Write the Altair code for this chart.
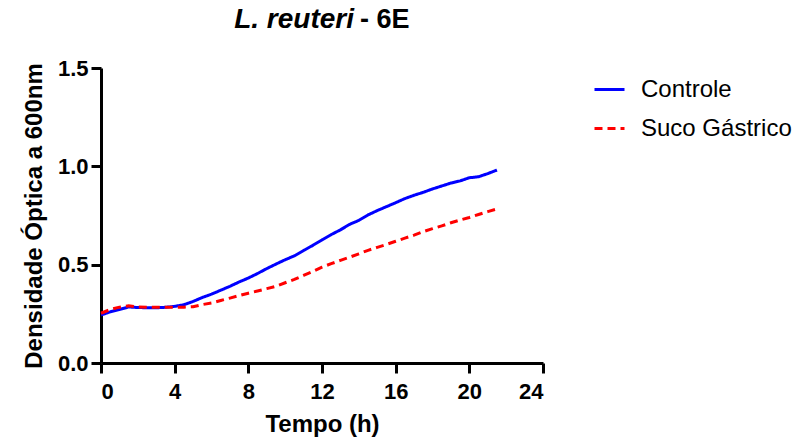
import altair as alt
import pandas as pd

# Data
tempo = [0, 0.5, 1, 1.5, 2, 2.5, 3, 3.5, 4, 4.5, 5, 5.5, 6, 6.5, 7, 7.5, 8, 8.5, 9, 9.5,
         10, 10.5, 11, 11.5, 12, 12.5, 13, 13.5, 14, 14.5, 15, 15.5, 16, 16.5, 17, 17.5,
         18, 18.5, 19, 19.5, 20, 20.5, 21, 21.5]
controle = [0.244, 0.260, 0.272, 0.285, 0.282, 0.281, 0.281, 0.283, 0.288, 0.296, 0.313,
            0.333, 0.350, 0.370, 0.390, 0.412, 0.432, 0.455, 0.480, 0.503, 0.525, 0.545,
            0.572, 0.598, 0.626, 0.653, 0.677, 0.705, 0.725, 0.753, 0.775, 0.795, 0.815,
            0.836, 0.853, 0.868, 0.885, 0.900, 0.915, 0.926, 0.942, 0.947, 0.963, 0.981]
suco = [0.253, 0.272, 0.284, 0.291, 0.285, 0.284, 0.283, 0.284, 0.283, 0.284, 0.286,
        0.297, 0.305, 0.318, 0.330, 0.343, 0.355, 0.366, 0.378, 0.390, 0.408, 0.425,
        0.445, 0.465, 0.487, 0.505, 0.522, 0.538, 0.555, 0.573, 0.588, 0.603, 0.619,
        0.635, 0.650, 0.668, 0.683, 0.697, 0.713, 0.727, 0.740, 0.755, 0.770, 0.783]
series_names = ["Controle", "Suco Gástrico"]
x_ticks = [0, 4, 8, 12, 16, 20, 24]
y_ticks = [0.0, 0.5, 1.0, 1.5]

rows = []
for t, v in zip(tempo, controle):
    rows.append({"Tempo": t, "DO": v, "Serie": series_names[0]})
for t, v in zip(tempo, suco):
    rows.append({"Tempo": t, "DO": v, "Serie": series_names[1]})
df = pd.DataFrame(rows)

FONT = "Liberation Sans"
W, H = 442, 295

legend_cfg = dict(title=None, orient="none", legendX=492, legendY=5,
                  symbolType="stroke", symbolSize=900, symbolStrokeWidth=3,
                  labelFontSize=24, labelFont=FONT, labelColor="black",
                  labelOffset=15, rowPadding=10, padding=0)

lines = alt.Chart(df).mark_line(strokeWidth=3).encode(
    x=alt.X("Tempo:Q",
            scale=alt.Scale(domain=[0, 24], nice=False, zero=False),
            axis=alt.Axis(values=x_ticks, title="Tempo (h)", format="d",
                          labelPadding=8, titlePadding=10)),
    y=alt.Y("DO:Q",
            scale=alt.Scale(domain=[0, 1.5], nice=False),
            axis=alt.Axis(values=y_ticks, title="Densidade Óptica a 600nm", format=".1f",
                          labelPadding=3, titlePadding=11)),
    color=alt.Color("Serie:N",
                    scale=alt.Scale(domain=series_names, range=["#0000FF", "#FF0000"]),
                    legend=alt.Legend(**legend_cfg)),
    strokeDash=alt.StrokeDash("Serie:N",
                              scale=alt.Scale(domain=series_names, range=[[1, 0], [8, 5]]),
                              legend=alt.Legend(**legend_cfg)),
)

title_a = alt.Chart(pd.DataFrame({"t": ["L. reuteri"]})).mark_text(
    font=FONT, fontSize=28, fontStyle="italic", fontWeight="bold", align="right",
    baseline="alphabetic", color="black"
).encode(text="t:N", x=alt.value(253), y=alt.value(-40))

title_b = alt.Chart(pd.DataFrame({"t": ["- 6E"]})).mark_text(
    font=FONT, fontSize=27, fontWeight="bold", align="left",
    baseline="alphabetic", color="black"
).encode(text="t:N", x=alt.value(259), y=alt.value(-40))

chart = alt.layer(lines, title_a, title_b).properties(
    width=W, height=H,
    autosize=alt.AutoSizeParams(type="none"),
    padding={"left": 101, "top": 68, "right": 809 - 101 - W, "bottom": 446 - 68 - H},
).configure_view(stroke=None).configure_axis(
    grid=False, domainColor="black", domainWidth=3, tickColor="black", tickWidth=3,
    tickSize=10, labelFont=FONT, labelFontSize=22, labelFontWeight="bold",
    labelColor="black", titleFont=FONT, titleFontSize=24, titleFontWeight="bold",
    titleColor="black"
)

chart.save("out.html", embed_options={"renderer": "svg", "actions": False})
